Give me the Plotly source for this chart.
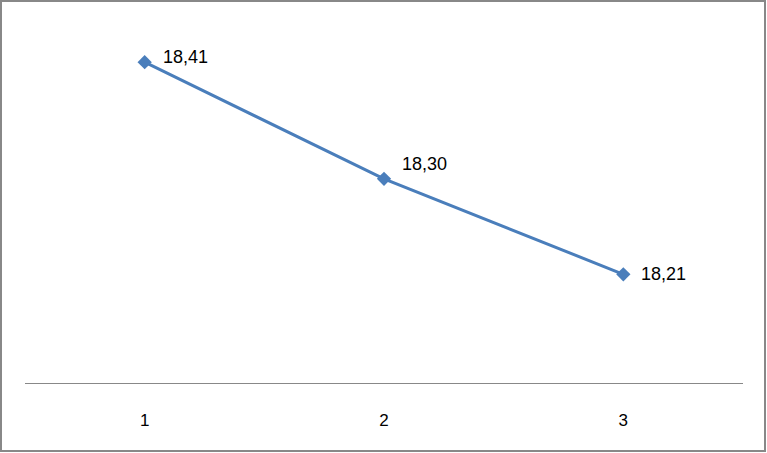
import plotly.graph_objects as go

categories = ["1", "2", "3"]
values = [18.41, 18.30, 18.21]
label_yshift = [5, 15, 0]

W, H = 767, 453
L, R, T, B = 25, 24, 15, 70
pw, ph = W - L - R, H - T - B

def px_x(p):
    return (p - L) / pw

def px_y(p):
    return (H - B - p) / ph

FONT = "Liberation Sans, Arial, sans-serif"

fig = go.Figure()
fig.add_trace(go.Scatter(
    x=list(range(len(categories))), y=values, mode="lines+markers",
    line=dict(color="#4a7ebb", width=3),
    marker=dict(symbol="diamond", size=11, color="#4a7ebb"),
    hoverinfo="skip", showlegend=False,
))

for i, (v, ys) in enumerate(zip(values, label_yshift)):
    fig.add_annotation(
        x=i, y=v, text=f"{v:.2f}".replace(".", ","), showarrow=False,
        xanchor="left", yanchor="middle", xshift=16, yshift=ys,
        font=dict(family=FONT, size=18, color="#000000"),
    )

fig.add_shape(type="rect", xref="paper", yref="paper",
              x0=px_x(1), x1=px_x(765), y0=px_y(451), y1=px_y(1),
              line=dict(color="#888888", width=2), layer="above")

fig.update_layout(
    width=W, height=H,
    margin=dict(l=L, r=R, t=T, b=B),
    paper_bgcolor="white", plot_bgcolor="white",
    xaxis=dict(
        range=[-0.5, 2.5],
        tickmode="array", tickvals=list(range(len(categories))), ticktext=categories,
        showline=True, linecolor="#888888", linewidth=1,
        showgrid=False, zeroline=False, ticks="", ticklabelstandoff=22,
        tickfont=dict(family=FONT, size=17, color="#000000"),
    ),
    yaxis=dict(
        range=[18.1075, 18.4545], visible=False, showgrid=False, zeroline=False,
    ),
)

fig.write_html("out.html", config={"displayModeBar": False},
               post_script="document.body.style.margin='0';")
